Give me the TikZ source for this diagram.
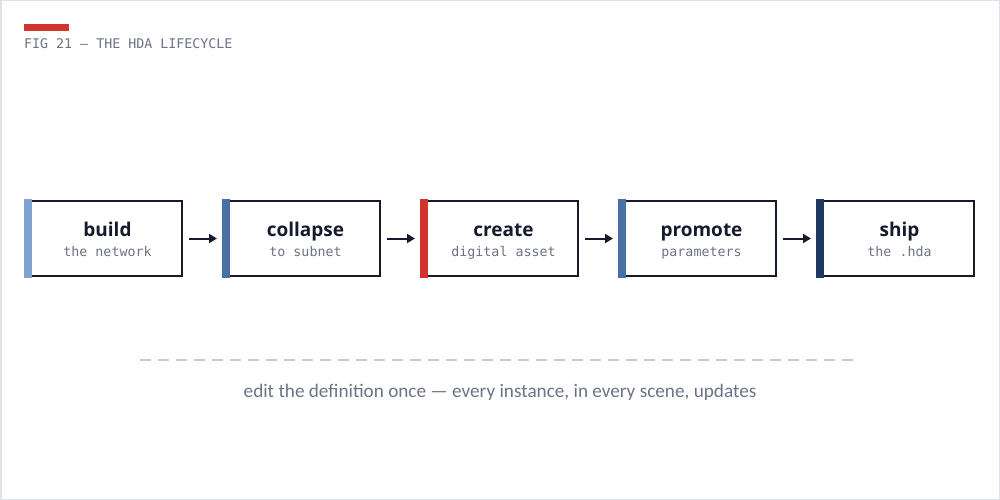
\documentclass[tikz,border=0pt]{standalone}
\usepackage{fontspec}
\setmainfont{Open Sans}
\newfontfamily\monof{DejaVu Sans Mono}
\newfontfamily\footf{Carlito}
\usetikzlibrary{arrows.meta}
\definecolor{ink}{HTML}{151B2B}
\definecolor{gtxt}{HTML}{6B7385}
\definecolor{frame}{HTML}{DDE1E8}
\definecolor{dashc}{HTML}{C6CAD2}
\definecolor{redc}{HTML}{D0342C}
\definecolor{lblue}{HTML}{7FA3D1}
\definecolor{mblue}{HTML}{4A6FA5}
\definecolor{navy}{HTML}{1E3A5F}
\tikzset{
  stagebox/.style={draw=ink, line width=2pt, fill=white, minimum width=156pt, minimum height=75pt, inner sep=0pt, outer sep=1pt},
  stagetitle/.style={font=\fontsize{19}{22}\selectfont\bfseries, text=ink, anchor=base, inner sep=0pt},
  stagesub/.style={font=\monof\fontsize{13.3}{16}\selectfont, text=gtxt, anchor=base, inner sep=0pt},
  flow/.style={draw=ink, line width=2pt, -{Triangle[length=8pt,width=9pt]}, shorten <=6pt, shorten >=6pt},
}
\begin{document}
\begin{tikzpicture}[x=1pt,y=-1pt]
\useasboundingbox (0,0) rectangle (1000,500);
\draw[frame, line width=1.5pt] (0.75,0.75) rectangle (999.25,499.25);
\fill[redc] (24,24) rectangle (69,31);
\node[font=\monof\fontsize{13.3}{16}\selectfont, text=gtxt, anchor=base west, inner sep=0pt] (title) at (24,49) {FIG 21 — THE HDA LIFECYCLE};

\foreach \i/\x/\col/\t/\s in {1/104/lblue/build/the network, 2/302/mblue/collapse/to subnet, 3/500/redc/create/digital asset, 4/698/mblue/promote/parameters, 5/896/navy/ship/the .hda}{
  \node[stagebox] (b\i) at (\x,238.5) {};
  \fill[\col] ([xshift=-1pt,yshift=1pt]b\i.north west) rectangle ([xshift=7pt,yshift=-1pt]b\i.south west);
  \node[stagetitle] (t\i) at (\x+3.5,236.5) {\t};
  \node[stagesub] (s\i) at (\x+3.5,256.5) {\s};
}
\foreach \a/\b in {1/2,2/3,3/4,4/5}{
  \draw[flow] (b\a.east) -- (b\b.west);
}

\draw[dashc, line width=2pt, dash pattern=on 11pt off 7pt] (140,360) -- (853,360);
\node[font=\footf\fontsize{19.2}{23}\selectfont, text=gtxt, anchor=base, inner sep=0pt] (foot) at (500,397) {edit the definition once — every instance, in every scene, updates};
\end{tikzpicture}
\end{document}
